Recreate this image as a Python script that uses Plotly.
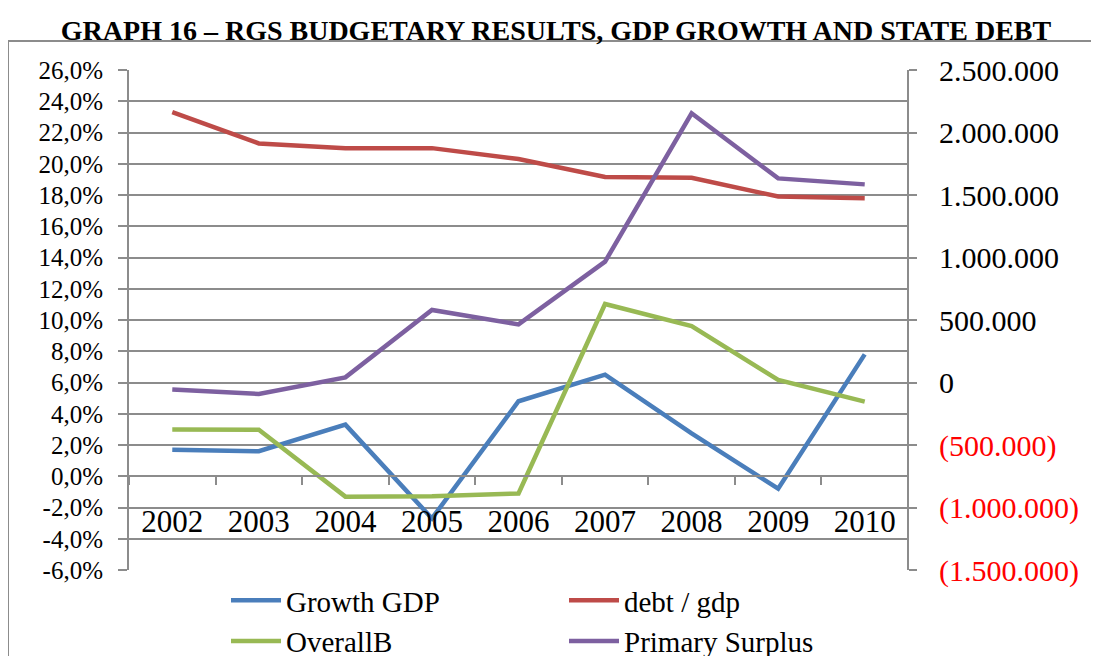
import plotly.graph_objects as go

# ---------------- data ----------------
years = ["2002", "2003", "2004", "2005", "2006", "2007", "2008", "2009", "2010"]
growth_gdp = [1.7, 1.6, 3.3, -2.7, 4.8, 6.5, 2.75, -0.8, 7.8]          # % (left axis)
debt_gdp = [23.3, 21.3, 21.0, 21.0, 20.3, 19.15, 19.1, 17.9, 17.8]     # % (left axis)
overall_b = [-375000, -378000, -913000, -910000, -888000, 628000, 452000, 20000, -153000]      # right axis
primary_surplus = [-55000, -92000, 41000, 580000, 465000, 967000, 2154000, 1633000, 1585000]  # right axis

left_ticks = [-6, -4, -2, 0, 2, 4, 6, 8, 10, 12, 14, 16, 18, 20, 22, 24, 26]
right_ticks = [-1500000, -1000000, -500000, 0, 500000, 1000000, 1500000, 2000000, 2500000]

title_text = "GRAPH 16 – RGS BUDGETARY RESULTS, GDP GROWTH AND STATE DEBT"


def pct_label(v):
    return f"{v:.1f}%".replace(".", ",")


def money_label(v):
    s = f"{abs(v):,}".replace(",", ".")
    if v < 0:
        return f'<span style="color:#ff0000">({s})</span>'
    return s


left_text = [pct_label(v) for v in left_ticks]
right_text = [money_label(v) for v in right_ticks]

# ---------------- layout geometry (page pixels) ----------------
OFF = 8                      # default body margin of the page
W, H = 1099 - OFF, 656 - OFF
PL, PR, PT, PB = 129, 908, 70, 570
pw, ph = PR - PL, PB - PT


def px_x(p):
    return (p - PL) / pw


def px_y(p):
    return (PB - p) / ph


FONT = "Liberation Serif"
GRID = "#8c8c8c"

fig = go.Figure()
fig.add_trace(go.Scatter(x=years, y=growth_gdp, name="Growth GDP", mode="lines",
                         line=dict(color="#4a7ebb", width=4.5), yaxis="y"))
fig.add_trace(go.Scatter(x=years, y=debt_gdp, name="debt / gdp", mode="lines",
                         line=dict(color="#be4b48", width=4.5), yaxis="y"))
fig.add_trace(go.Scatter(x=years, y=overall_b, name="OverallB", mode="lines",
                         line=dict(color="#98b954", width=4.5), yaxis="y2"))
fig.add_trace(go.Scatter(x=years, y=primary_surplus, name="Primary Surplus", mode="lines",
                         line=dict(color="#7d60a0", width=4.5), yaxis="y2"))

fig.update_layout(
    width=W, height=H,
    margin=dict(l=PL - OFF, r=W + OFF - PR, t=PT - OFF, b=H + OFF - PB, pad=0, autoexpand=False),
    paper_bgcolor="white", plot_bgcolor="white",
    font=dict(family=FONT, color="black"),
    title=dict(text=f"<b>{title_text}</b>", font=dict(family=FONT, size=28, color="black"),
               xref="container", yref="container", x=(556 - OFF) / W, y=1 - (30 - OFF) / H,
               xanchor="center", yanchor="middle"),
    showlegend=True,
    legend=dict(orientation="h", x=px_x(226), y=px_y(575), xanchor="left", yanchor="top",
                font=dict(family=FONT, size=29), entrywidth=273, entrywidthmode="pixels",
                itemwidth=50, bgcolor="rgba(0,0,0,0)", tracegroupgap=0),
    xaxis=dict(type="category", anchor="free", position=px_y(476.25),
               showline=True, linecolor=GRID, linewidth=1.5,
               ticks="outside", tickson="boundaries", ticklen=8, tickcolor=GRID, tickwidth=1.5,
               showgrid=False, zeroline=False, tickfont=dict(family=FONT, size=31),
               ticklabelstandoff=18, range=[-0.5, 8.5]),
    yaxis=dict(range=[-6, 26], tickvals=left_ticks, ticktext=left_text,
               showgrid=True, gridcolor=GRID, gridwidth=1.5,
               showline=True, linecolor=GRID, linewidth=2,
               ticks="outside", ticklen=9, tickcolor=GRID, tickwidth=1.5,
               zeroline=False, tickfont=dict(family=FONT, size=25), ticklabelstandoff=10),
    yaxis2=dict(range=[-1500000, 2500000], tickvals=right_ticks, ticktext=right_text,
                overlaying="y", side="right", anchor="free", position=1.0,
                showgrid=False, showline=True, linecolor=GRID, linewidth=2,
                ticks="outside", ticklen=8, tickcolor=GRID, tickwidth=1.5,
                zeroline=False, tickfont=dict(family=FONT, size=30), ticklabelstandoff=16),
    shapes=[dict(type="rect", xref="paper", yref="paper",
                 x0=px_x(8), x1=px_x(1115), y0=px_y(41), y1=px_y(680),
                 line=dict(color="#8c8c8c", width=2), fillcolor="rgba(0,0,0,0)", layer="below")],
)

fig.write_html("out.html")
